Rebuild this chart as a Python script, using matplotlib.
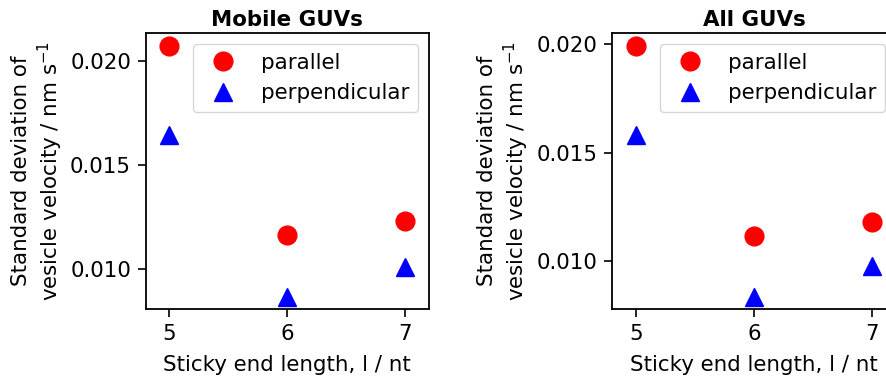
import numpy as np
import matplotlib
matplotlib.use('Agg')
import matplotlib.pyplot as plt

# sticky end length (nt)
lengths = [5, 6, 7]

# std of vesicle velocity, mobile GUVs
mobile_par = [0.0207, 0.01163, 0.0123]
mobile_perp = [0.01642, 0.00869, 0.0101]

# std of vesicle velocity, all GUVs
all_par = [0.01992, 0.01114, 0.01177]
all_perp = [0.01581, 0.00834, 0.00975]

titles = ['Mobile GUVs', 'All GUVs']
ylims = [(0.0081, 0.02131), (0.00777, 0.02051)]

fs = 15.4
fig = plt.figure(figsize=(8.86, 3.84), dpi=100)
ax1 = fig.add_axes([0.1644, 0.1953, 0.3198, 0.718])
ax2 = fig.add_axes([0.6911, 0.1953, 0.3198, 0.718])

for ax, par, perp, title, yl in zip([ax1, ax2], [mobile_par, all_par],
                                    [mobile_perp, all_perp], titles, ylims):
    ax.plot(lengths, par, 'o', color='red', ms=13.5, ls='none', label='parallel')
    ax.plot(lengths, perp, '^', color='blue', ms=13.5, ls='none', label='perpendicular')
    ax.set_xlim(4.8, 7.2)
    ax.set_ylim(*yl)
    ax.set_xticks(lengths)
    ax.set_yticks([0.010, 0.015, 0.020])
    ax.yaxis.set_major_formatter(matplotlib.ticker.FormatStrFormatter('%.3f'))
    ax.tick_params(labelsize=fs, length=5.5, width=1.2, pad=5)
    for s in ax.spines.values():
        s.set_linewidth(1.3)
    ax.set_title(title, fontsize=fs, fontweight='bold', pad=5)
    ax.set_xlabel('Sticky end length, l / nt', fontsize=fs, labelpad=8)
    ax.set_ylabel('Standard deviation of\nvesicle velocity / nm s$^{-1}$', fontsize=fs)
    ax.legend(loc='upper right', fontsize=fs)

fig.savefig('out.png', dpi=100)
